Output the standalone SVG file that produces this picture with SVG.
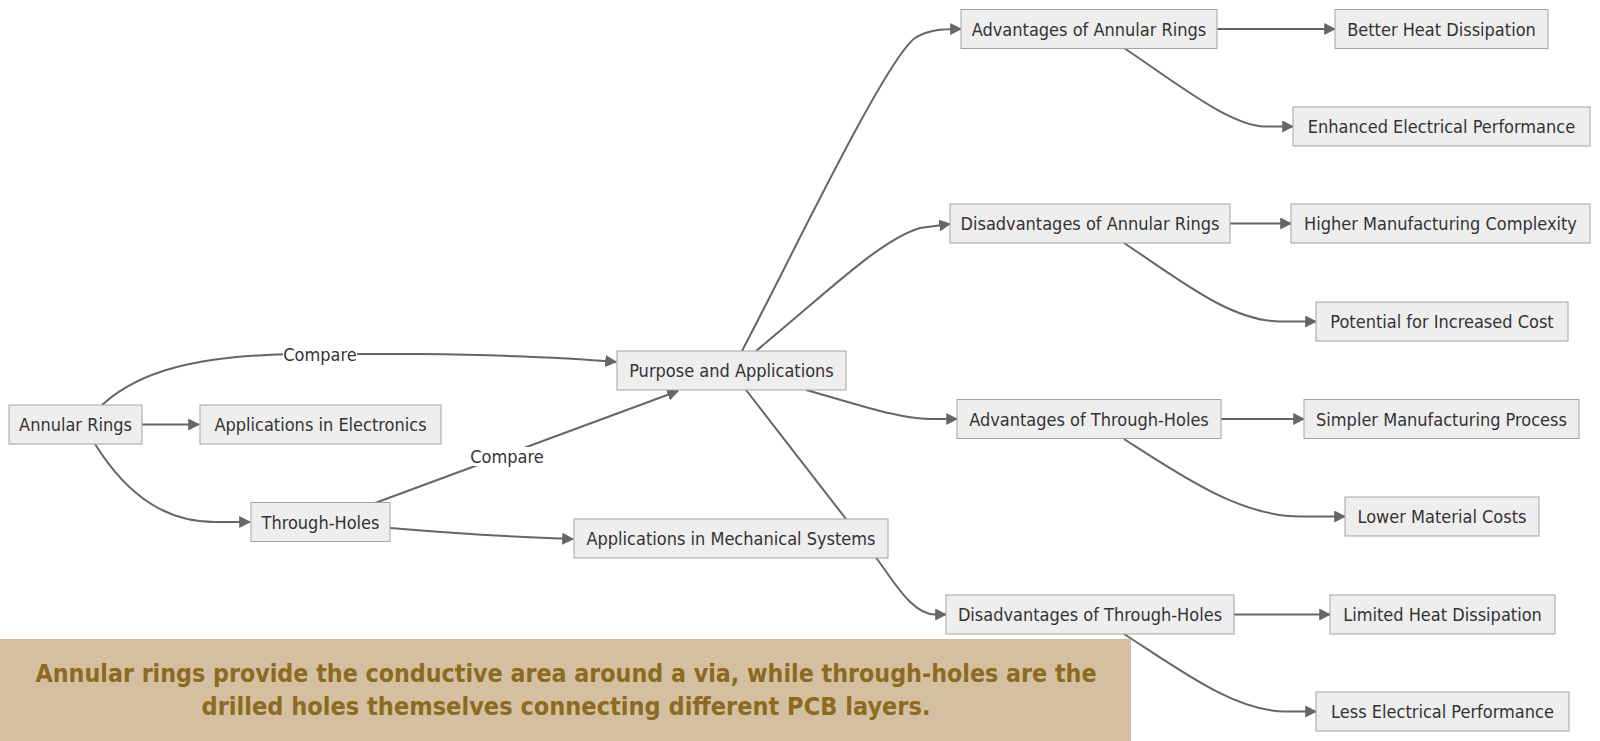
<svg xmlns="http://www.w3.org/2000/svg" width="1600" height="741" viewBox="0 0 1600 741">
<style>
.node rect{fill:#eeeeee;stroke:#a3a3a3;stroke-width:1}
.node text,.lbl text{font-family:"DejaVu Sans Condensed","DejaVu Sans",sans-serif;font-size:18px;fill:#333333;text-anchor:middle;dominant-baseline:central}
.edge{fill:none;stroke:#666666;stroke-width:2;marker-end:url(#arrow)}
.lbl rect{fill:#ffffff}
.banner text{font-family:"DejaVu Sans Condensed","DejaVu Sans",sans-serif;font-weight:bold;font-size:24px;fill:#8c6a1f;text-anchor:middle}
</style>
<defs>
<marker id="arrow" viewBox="0 0 10 10" refX="9" refY="5" markerUnits="userSpaceOnUse" markerWidth="12" markerHeight="12" orient="auto">
<path d="M0,0 L10,5 L0,10 z" fill="#666666"/>
</marker>
</defs>
<rect width="1600" height="741" fill="#ffffff"/>
<g id="connectors">
<path class="edge" d="M142,424.5 L199,424.5"/>
<path class="edge" d="M102,405 C140,370 200,355 300,354 L420,354 C500,355 560,357 616,362"/>
<path class="edge" d="M95,444 C130,500 170,522 215,522 L250,522"/>
<path class="edge" d="M375,503 L678,391"/>
<path class="edge" d="M390,528 C450,533 510,537 573,539"/>
<path class="edge" d="M742,351 C790,260 885,60 915,38 C928,30 940,29 961,29"/>
<path class="edge" d="M756,351 C830,290 880,240 920,228 L950,224"/>
<path class="edge" d="M806,390 C860,405 900,419 930,419 L957,419"/>
<path class="edge" d="M746,390 L877,559 C895,583 912,614 935,614.5 L946,614.5"/>
<path class="edge" d="M1217,29 L1335,29"/>
<path class="edge" d="M1124,48 C1175,82 1230,126 1265,126.5 L1293,126.5"/>
<path class="edge" d="M1230,223.5 L1291,223.5"/>
<path class="edge" d="M1124,243 C1180,280 1230,321 1280,321.5 L1316,321.5"/>
<path class="edge" d="M1221,419 L1304,419"/>
<path class="edge" d="M1124,439 C1180,475 1240,516.5 1300,516.5 L1345,516.5"/>
<path class="edge" d="M1234,614.5 L1330,614.5"/>
<path class="edge" d="M1124,634 C1180,670 1235,711.5 1285,711.5 L1316,711.5"/>
<g class="lbl"><rect x="283" y="345" width="74" height="19"/><text x="320" y="354.5">Compare</text></g>
<g class="lbl"><rect x="470" y="447" width="74" height="19"/><text x="507" y="456.5">Compare</text></g>
</g>
<g id="n_ar" class="node"><rect x="9" y="405" width="133" height="39"/><text x="75.5" y="424.5">Annular Rings</text></g>
<g id="n_ae" class="node"><rect x="200" y="405" width="241" height="39"/><text x="320.5" y="424.5">Applications in Electronics</text></g>
<g id="n_th" class="node"><rect x="251" y="502.5" width="139" height="39"/><text x="320.5" y="522">Through-Holes</text></g>
<g id="n_pa" class="node"><rect x="617" y="351" width="229" height="39"/><text x="731.5" y="370.5">Purpose and Applications</text></g>
<g id="n_am" class="node"><rect x="574" y="519" width="314" height="39"/><text x="731" y="538.5">Applications in Mechanical Systems</text></g>
<g id="n_aar" class="node"><rect x="961" y="9.5" width="256" height="39"/><text x="1089" y="29">Advantages of Annular Rings</text></g>
<g id="n_bhd" class="node"><rect x="1335" y="9.5" width="213" height="39"/><text x="1441.5" y="29">Better Heat Dissipation</text></g>
<g id="n_eep" class="node"><rect x="1293" y="107" width="297" height="39"/><text x="1441.5" y="126.5">Enhanced Electrical Performance</text></g>
<g id="n_dar" class="node"><rect x="950" y="204" width="280" height="39"/><text x="1090" y="223.5">Disadvantages of Annular Rings</text></g>
<g id="n_hmc" class="node"><rect x="1291" y="204" width="299" height="39"/><text x="1440.5" y="223.5">Higher Manufacturing Complexity</text></g>
<g id="n_pic" class="node"><rect x="1316" y="302" width="252" height="39"/><text x="1442" y="321.5">Potential for Increased Cost</text></g>
<g id="n_ath" class="node"><rect x="957" y="399.5" width="264" height="39"/><text x="1089" y="419">Advantages of Through-Holes</text></g>
<g id="n_smp" class="node"><rect x="1304" y="399.5" width="275" height="39"/><text x="1441.5" y="419">Simpler Manufacturing Process</text></g>
<g id="n_lmc" class="node"><rect x="1345" y="497" width="194" height="39"/><text x="1442" y="516.5">Lower Material Costs</text></g>
<g id="n_dth" class="node"><rect x="946" y="595" width="288" height="39"/><text x="1090" y="614.5">Disadvantages of Through-Holes</text></g>
<g id="n_lhd" class="node"><rect x="1330" y="595" width="225" height="39"/><text x="1442.5" y="614.5">Limited Heat Dissipation</text></g>
<g id="n_lep" class="node"><rect x="1316" y="692" width="253" height="39"/><text x="1442.5" y="711.5">Less Electrical Performance</text></g>
<g id="banner" class="banner">
<rect x="0" y="639" width="1131" height="102" fill="#d4c0a1"/>
<text x="566" y="682" textLength="1061" lengthAdjust="spacingAndGlyphs">Annular rings provide the conductive area around a via, while through-holes are the</text>
<text x="566" y="715" textLength="729" lengthAdjust="spacingAndGlyphs">drilled holes themselves connecting different PCB layers.</text>
</g>
</svg>
